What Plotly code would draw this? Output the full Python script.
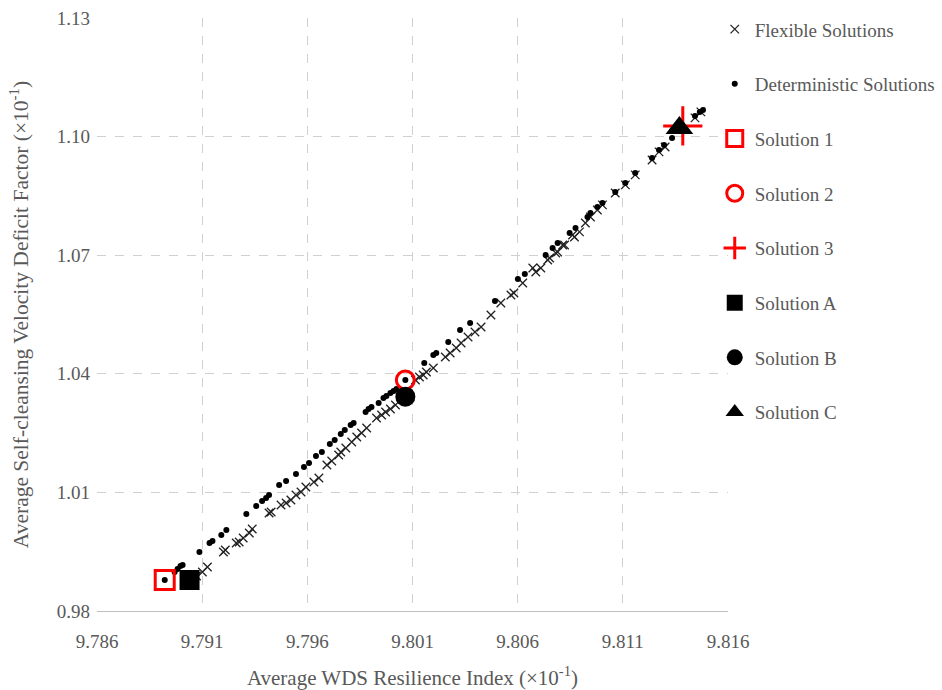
import plotly.graph_objects as go

# Deterministic solutions (dots)
det_x = [9.78922, 9.78969, 9.78983, 9.78997, 9.79007, 9.79087, 9.79135, 9.79149, 9.79191, 9.79215,
         9.79310, 9.79357, 9.79385, 9.79404, 9.79418, 9.79466, 9.79499, 9.79546, 9.79584, 9.79608,
         9.79641, 9.79669, 9.79707, 9.79730, 9.79759, 9.79778, 9.79806, 9.79820, 9.79877, 9.79891,
         9.79905, 9.79939, 9.79962, 9.79976, 9.79995, 9.80010, 9.80024, 9.80066, 9.80156, 9.80199,
         9.80213, 9.80270, 9.80326, 9.80374, 9.80492, 9.80601, 9.80634, 9.80733, 9.80766, 9.80790,
         9.80847, 9.80875, 9.80932, 9.80946, 9.80979, 9.81003, 9.81064, 9.81112, 9.81159, 9.81239,
         9.81272, 9.81296, 9.81334, 9.81372, 9.81443, 9.81466, 9.81481]
det_y = [0.98784, 0.98987, 0.99063, 0.99139, 0.99164, 0.99493, 0.99720, 0.99771, 0.99923, 1.00049,
         1.00454, 1.00657, 1.00783, 1.00859, 1.00935, 1.01188, 1.01289, 1.01466, 1.01643, 1.01744,
         1.01922, 1.02023, 1.02225, 1.02326, 1.02478, 1.02579, 1.02706, 1.02756, 1.03035, 1.03111,
         1.03161, 1.03262, 1.03389, 1.03440, 1.03515, 1.03566, 1.03617, 1.03844, 1.04274, 1.04477,
         1.04527, 1.04806, 1.05109, 1.05286, 1.05843, 1.06400, 1.06526, 1.07007, 1.07184, 1.07310,
         1.07563, 1.07690, 1.07968, 1.08069, 1.08221, 1.08322, 1.08601, 1.08828, 1.09081, 1.09461,
         1.09663, 1.09790, 1.09967, 1.10220, 1.10524, 1.10625, 1.10675]

# Flexible solutions (crosses)
flex_x = [9.79073, 9.79101, 9.79125, 9.79201, 9.79210, 9.79262, 9.79276, 9.79295, 9.79324, 9.79338,
          9.79418, 9.79428, 9.79475, 9.79499, 9.79522, 9.79546, 9.79570, 9.79593, 9.79631, 9.79655,
          9.79693, 9.79716, 9.79749, 9.79759, 9.79783, 9.79811, 9.79835, 9.79858, 9.79882, 9.79929,
          9.79953, 9.79972, 9.79995, 9.80019, 9.80066, 9.80114, 9.80133, 9.80151, 9.80166, 9.80199,
          9.80256, 9.80279, 9.80308, 9.80331, 9.80364, 9.80397, 9.80426, 9.80473, 9.80520, 9.80568,
          9.80582, 9.80624, 9.80672, 9.80686, 9.80710, 9.80743, 9.80752, 9.80781, 9.80790, 9.80814,
          9.80823, 9.80861, 9.80870, 9.80894, 9.80922, 9.80946, 9.80979, 9.81003, 9.81064, 9.81112,
          9.81159, 9.81239, 9.81272, 9.81301, 9.81443, 9.81471]
flex_y = [0.98886, 0.98987, 0.99113, 0.99493, 0.99543, 0.99720, 0.99746, 0.99847, 0.99973, 1.00075,
          1.00479, 1.00505, 1.00682, 1.00732, 1.00808, 1.00935, 1.01011, 1.01137, 1.01264, 1.01365,
          1.01694, 1.01795, 1.01947, 1.02023, 1.02124, 1.02276, 1.02402, 1.02503, 1.02630, 1.02883,
          1.02959, 1.03035, 1.03111, 1.03212, 1.03465, 1.03844, 1.03920, 1.03971, 1.04047, 1.04148,
          1.04426, 1.04527, 1.04654, 1.04780, 1.04932, 1.05059, 1.05185, 1.05489, 1.05792, 1.05995,
          1.06045, 1.06298, 1.06678, 1.06577, 1.06678, 1.06880, 1.06931, 1.07057, 1.07083, 1.07260,
          1.07260, 1.07513, 1.07462, 1.07589, 1.07816, 1.07968, 1.08145, 1.08272, 1.08575, 1.08778,
          1.09031, 1.09410, 1.09613, 1.09739, 1.10473, 1.10625]

# Highlighted solutions
sol_names = ["Solution 1", "Solution 2", "Solution 3", "Solution A", "Solution B", "Solution C"]
sol_x = [9.78922, 9.80066, 9.81385, 9.79040, 9.80066, 9.81369]
sol_y = [0.98784, 1.03844, 1.10271, 0.98784, 1.03422, 1.10220]

x_ticks = [9.786, 9.791, 9.796, 9.801, 9.806, 9.811, 9.816]
y_ticks = [0.98, 1.01, 1.04, 1.07, 1.10, 1.13]

FONT = "Liberation Serif, Times New Roman, serif"
GRAY = "#595959"

fig = go.Figure()
fig.add_trace(go.Scatter(
    x=flex_x, y=flex_y, mode="markers", name="Flexible Solutions",
    marker=dict(symbol="x-thin-open", size=8.5, color="#222222", line=dict(width=1.3, color="#222222"))))
fig.add_trace(go.Scatter(
    x=det_x, y=det_y, mode="markers", name="Deterministic Solutions",
    marker=dict(symbol="circle", size=6, color="black")))

styles = [
    dict(symbol="square-open", size=19, color="#ff0000", line=dict(width=3, color="#ff0000")),
    dict(symbol="circle-open", size=18, color="#ff0000", line=dict(width=3, color="#ff0000")),
    dict(symbol="cross-thin-open", size=28, color="#ff0000", line=dict(width=3, color="#ff0000")),
    dict(symbol="square", size=20, color="black"),
    dict(symbol="circle", size=20, color="black"),
    dict(symbol="triangle-up", size=24, color="black"),
]
for i, nm in enumerate(sol_names):
    fig.add_trace(go.Scatter(x=[sol_x[i]], y=[sol_y[i]], mode="markers", name=nm,
                             marker=styles[i]))

for i, tr in enumerate(fig.data):
    tr.legendgroup = "g%d" % i

axis_common = dict(
    showgrid=True, gridcolor="#d0d0d0", griddash="dash", gridwidth=1,
    zeroline=False, ticks="", automargin=False,
    tickfont=dict(family=FONT, size=19, color=GRAY),
)

fig.update_xaxes(range=[9.786, 9.816], tickvals=x_ticks,
                 ticktext=["%.3f" % v for v in x_ticks],
                 showline=True, linecolor="#bfbfbf", linewidth=1, mirror=False,
                 ticklabelstandoff=13,
                 title=dict(text="Average WDS Resilience Index (×10<sup>-1</sup>)",
                            font=dict(family=FONT, size=21, color=GRAY), standoff=20),
                 **axis_common)
fig.update_yaxes(range=[0.98, 1.13], tickvals=y_ticks,
                 ticktext=["%.2f" % v for v in y_ticks],
                 showline=False, ticklabelstandoff=6,
                 title=dict(text="Average Self-cleansing Velocity Deficit Factor (×10<sup>-1</sup>)",
                            font=dict(family=FONT, size=21.5, color=GRAY), standoff=22),
                 **axis_common)

fig.update_layout(
    width=942, height=690,
    margin=dict(l=97, r=214, t=18, b=79, autoexpand=False),
    plot_bgcolor="white", paper_bgcolor="white",
    font=dict(family=FONT, color=GRAY),
    legend=dict(x=0.979, xanchor="left", y=1.013, yanchor="top",
                font=dict(family=FONT, size=19, color=GRAY),
                tracegroupgap=27, itemwidth=30, bgcolor="rgba(0,0,0,0)",
                maxheight=660),
    showlegend=True,
)

fig.write_html("out.html", config={"displayModeBar": False},
               post_script="document.body.style.margin='0';document.body.style.padding='0';")
